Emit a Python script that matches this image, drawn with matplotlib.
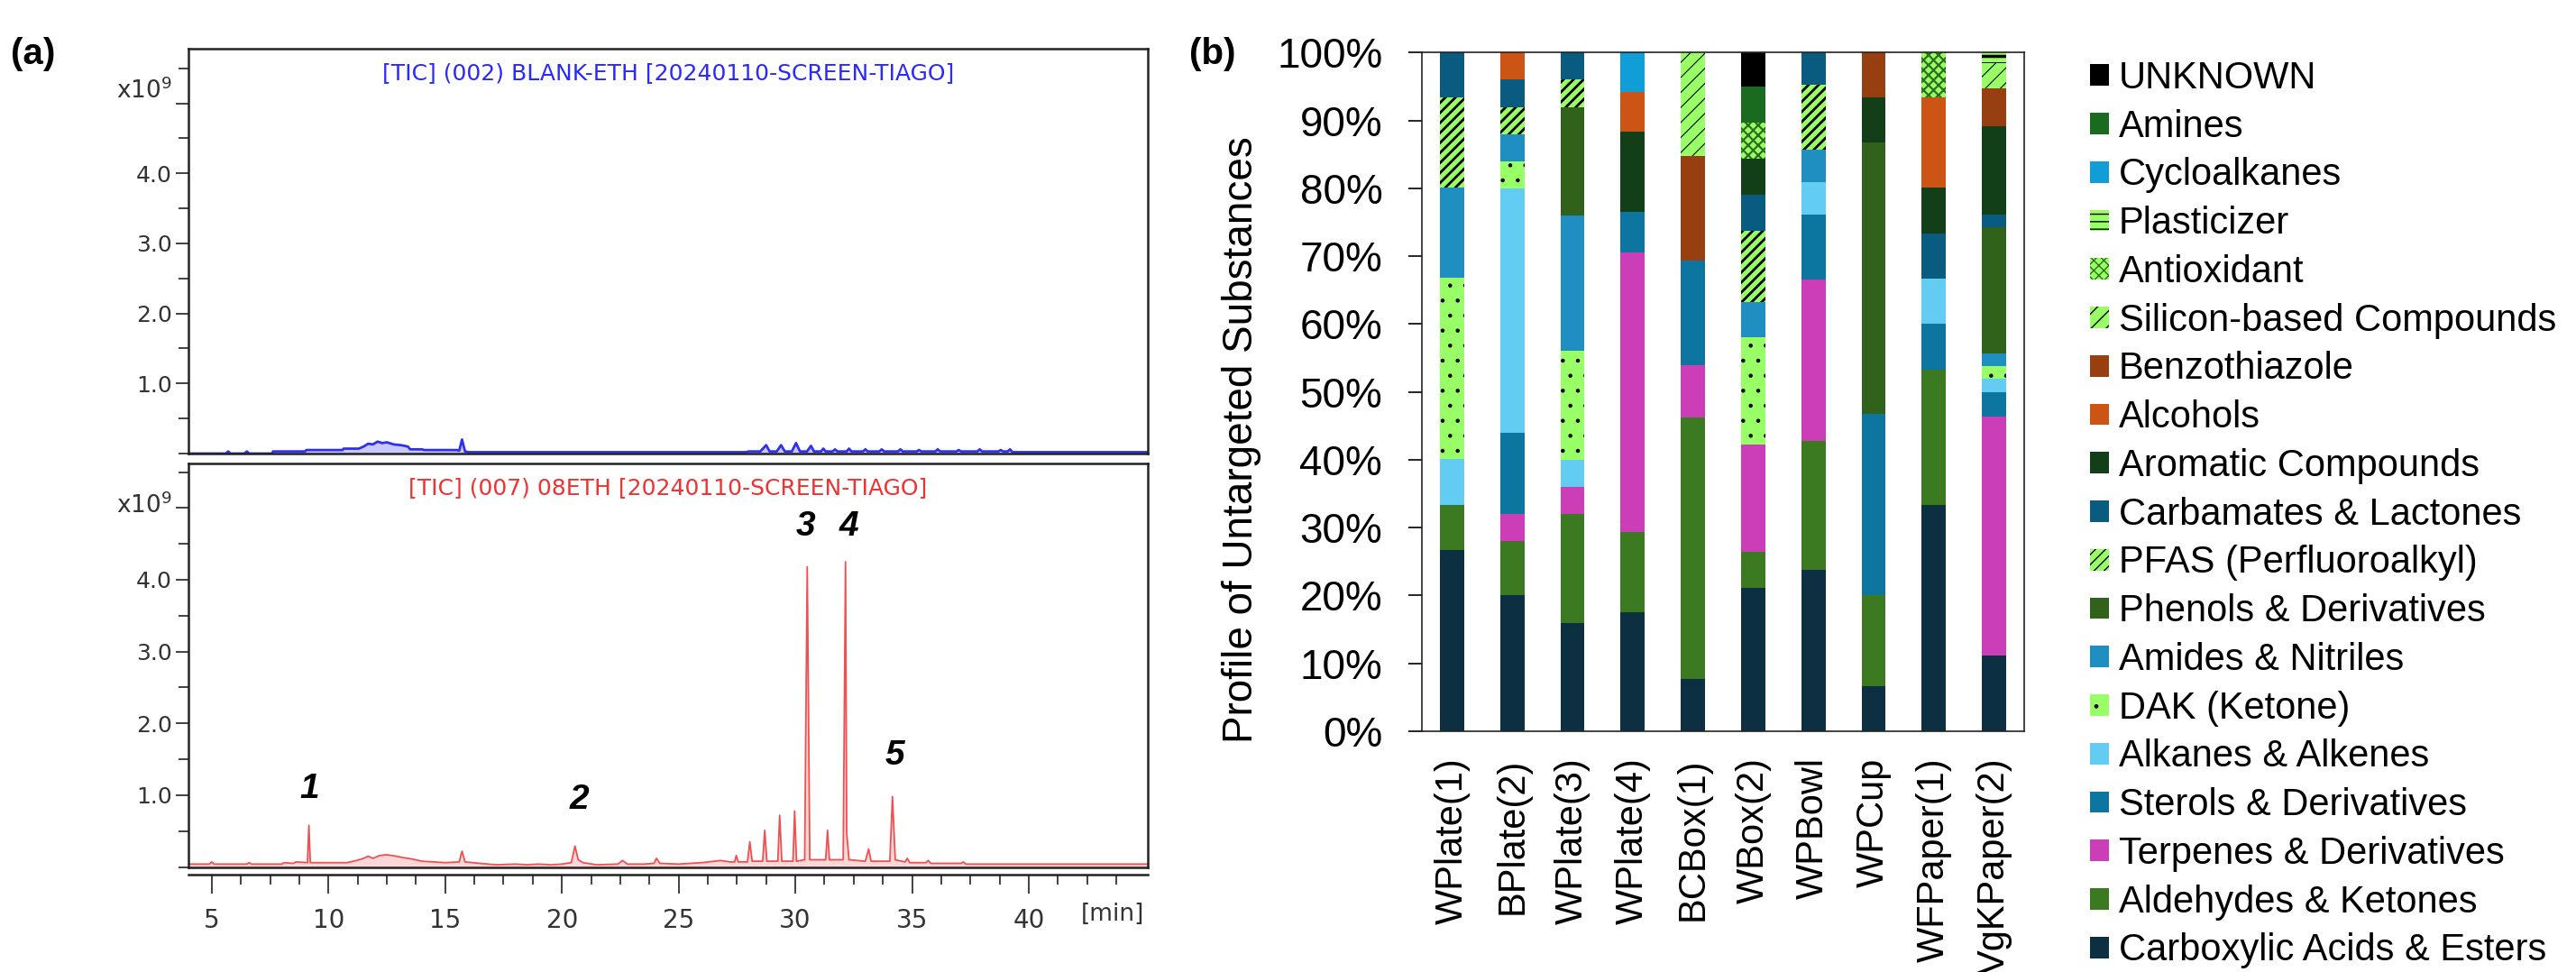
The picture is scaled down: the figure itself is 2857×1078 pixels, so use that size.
import numpy as np
import matplotlib.pyplot as plt

plt.rcParams['font.family'] = ['Liberation Sans', 'DejaVu Sans']
CHROM_FONT = 'DejaVu Sans'

W, H = 2857, 1078

# ---------------- (a) chromatograms (TIC, x10^9 counts vs minutes) ----------------
blank_time = [4.0, 5.6, 5.7, 5.8, 6.4, 6.5, 6.6, 7.6, 7.62, 9.0, 9.05, 10.6, 10.65, 11.3,
              11.5, 11.7, 11.9, 12.1, 12.3, 12.5, 12.8, 13.1, 13.4, 13.5, 14.0, 14.1,
              15.5, 15.6, 15.72, 15.85, 16.0, 27.9, 28.0, 28.5, 28.75, 28.9, 29.2, 29.39,
              29.55, 29.85, 30.03, 30.2, 30.5, 30.67, 30.8, 31.1, 31.2, 31.3, 31.6, 31.7,
              31.8, 32.2, 32.3, 32.4, 32.9, 33.0, 33.1, 33.6, 33.7, 33.8, 34.4, 34.5, 34.6,
              35.2, 35.3, 35.4, 36.0, 36.1, 36.2, 36.9, 37.0, 37.1, 37.8, 37.9, 38.0,
              38.7, 38.8, 38.9, 39.1, 39.2, 39.3, 45.1]
blank_tic = [0.00, 0.00, 0.03, 0.00, 0.00, 0.03, 0.00, 0.00, 0.03, 0.03, 0.05, 0.05, 0.07, 0.07,
             0.10, 0.14, 0.13, 0.17, 0.15, 0.16, 0.13, 0.12, 0.10, 0.06, 0.06, 0.05,
             0.05, 0.04, 0.20, 0.03, 0.02, 0.02, 0.03, 0.03, 0.12, 0.03, 0.03, 0.12,
             0.03, 0.03, 0.15, 0.03, 0.03, 0.11, 0.03, 0.03, 0.07, 0.03, 0.03, 0.06,
             0.03, 0.03, 0.07, 0.03, 0.03, 0.06, 0.03, 0.03, 0.06, 0.03, 0.03, 0.06, 0.03,
             0.03, 0.05, 0.03, 0.03, 0.06, 0.03, 0.03, 0.05, 0.03, 0.03, 0.06, 0.03,
             0.03, 0.05, 0.03, 0.03, 0.06, 0.02, 0.02]

sample_time = [4.0, 4.9, 5.0, 5.1, 6.5, 6.6, 6.7, 8.0, 8.1, 8.5, 8.6, 9.1, 9.16, 9.22,
               10.8, 11.2, 11.5, 11.7, 11.9, 12.2, 12.5, 12.9, 13.2, 13.6, 14.0,
               15.0, 15.6, 15.72, 15.85, 16.5, 17.2, 18.0, 18.5, 19.0, 19.5, 20.0,
               20.4, 20.56, 20.7, 20.9, 21.5, 22.4, 22.6, 22.8, 23.5, 23.95, 24.05, 24.2,
               25.0, 25.5, 26.0, 26.8, 27.2, 27.4, 27.47, 27.55, 27.95, 28.05, 28.15,
               28.6, 28.69, 28.78, 29.25, 29.33, 29.42, 29.9, 29.97, 30.05, 30.4, 30.51, 30.62,
               31.3, 31.38, 31.46, 32.05, 32.15, 32.2, 32.3, 33.0, 33.14, 33.25,
               34.05, 34.16, 34.28, 34.7, 34.8, 34.9, 35.6, 35.7, 35.8, 37.1, 37.2, 37.3, 45.1]
sample_tic = [0.04, 0.04, 0.07, 0.04, 0.04, 0.06, 0.04, 0.04, 0.06, 0.05, 0.07, 0.06, 0.58, 0.06,
              0.06, 0.09, 0.12, 0.15, 0.12, 0.16, 0.17, 0.15, 0.13, 0.11, 0.08,
              0.06, 0.07, 0.22, 0.07, 0.05, 0.03, 0.04, 0.03, 0.04, 0.03, 0.04,
              0.06, 0.29, 0.10, 0.06, 0.03, 0.04, 0.09, 0.04, 0.04, 0.05, 0.12, 0.05,
              0.04, 0.05, 0.06, 0.09, 0.07, 0.07, 0.16, 0.07, 0.07, 0.35, 0.08,
              0.08, 0.51, 0.08, 0.08, 0.72, 0.08, 0.08, 0.78, 0.08, 0.10, 4.18, 0.10,
              0.10, 0.51, 0.10, 0.10, 4.25, 0.48, 0.10, 0.08, 0.25, 0.08,
              0.08, 0.98, 0.10, 0.07, 0.12, 0.06, 0.06, 0.09, 0.05, 0.05, 0.07, 0.04, 0.04]

peak_ids = ['1', '2', '3', '4', '5']
peak_x = [9.2, 20.75, 30.45, 32.3, 34.25]
peak_y = [1.09, 0.93, 4.74, 4.74, 1.55]

# ---------------- (b) stacked profile (%) ----------------
samples = ['WPlate(1)', 'BPlate(2)', 'WPlate(3)', 'WPlate(4)', 'BCBox(1)',
           'WBox(2)', 'WPBowl', 'WPCup', 'WFPaper(1)', 'VgKPaper(2)']

carboxylic = [26.7, 20.0, 16.0, 17.6, 7.7, 21.1, 23.8, 6.7, 33.3, 11.1]
aldehydes = [6.7, 8.0, 16.0, 11.8, 38.5, 5.3, 19.0, 13.3, 20.0, 0]
terpenes = [0, 4.0, 4.0, 41.2, 7.7, 15.8, 23.8, 0, 0, 35.2]
sterols = [0, 12.0, 0, 5.9, 15.4, 0, 9.5, 26.7, 6.7, 3.7]
alkanes = [6.7, 36.0, 4.0, 0, 0, 0, 4.8, 0, 6.7, 1.9]
dak = [26.7, 4.0, 16.0, 0, 0, 15.8, 0, 0, 0, 1.9]
amides = [13.3, 4.0, 20.0, 0, 0, 5.3, 4.8, 0, 0, 1.9]
phenols = [0, 0, 16.0, 0, 0, 0, 0, 40.0, 0, 18.5]
pfas = [13.3, 4.0, 4.0, 0, 0, 10.5, 9.5, 0, 0, 0]
carbamates = [6.7, 4.0, 4.0, 0, 0, 5.3, 4.8, 0, 6.7, 1.9]
aromatic = [0, 0, 0, 11.8, 0, 5.3, 0, 6.7, 6.7, 13.0]
alcohols = [0, 4.0, 0, 5.9, 0, 0, 0, 0, 13.3, 0]
benzothiazole = [0, 0, 0, 0, 15.4, 0, 0, 6.7, 0, 5.6]
silicon = [0, 0, 0, 0, 15.4, 0, 0, 0, 0, 3.7]
antioxidant = [0, 0, 0, 0, 0, 5.3, 0, 0, 6.7, 0]
plasticizer = [0, 0, 0, 0, 0, 0, 0, 0, 0, 1.9]
cycloalkanes = [0, 0, 0, 5.9, 0, 0, 0, 0, 0, 0]
amines = [0, 0, 0, 0, 0, 5.3, 0, 0, 0, 0]
unknown = [0, 0, 0, 0, 0, 5.3, 0, 0, 0, 0]

# bottom -> top: (label, values, face, hatch, hatch colour, hatch width)
LIME = '#99ff66'
stack = [
    ('Carboxylic Acids & Esters', carboxylic, '#0c3042', None, None, 1),
    ('Aldehydes & Ketones', aldehydes, '#3c7a22', None, None, 1),
    ('Terpenes & Derivatives', terpenes, '#cc3db8', None, None, 1),
    ('Sterols & Derivatives', sterols, '#0c75a0', None, None, 1),
    ('Alkanes & Alkenes', alkanes, '#62ccf2', None, None, 1),
    ('DAK (Ketone)', dak, LIME, '.', 'black', 0.8),
    ('Amides & Nitriles', amides, '#1f8fc2', None, None, 1),
    ('Phenols & Derivatives', phenols, '#30621c', None, None, 1),
    ('PFAS (Perfluoroalkyl)', pfas, LIME, '///', 'black', 2.0),
    ('Carbamates & Lactones', carbamates, '#0a5b80', None, None, 1),
    ('Aromatic Compounds', aromatic, '#123f17', None, None, 1),
    ('Alcohols', alcohols, '#cc5414', None, None, 1),
    ('Benzothiazole', benzothiazole, '#983f12', None, None, 1),
    ('Silicon-based Compounds', silicon, LIME, '//', 'black', 0.8),
    ('Antioxidant', antioxidant, LIME, 'xxx', '#2d6e1c', 1.6),
    ('Plasticizer', plasticizer, LIME, '--', 'black', 2.5),
    ('Cycloalkanes', cycloalkanes, '#119ed6', None, None, 1),
    ('Amines', amines, '#1a6b20', None, None, 1),
    ('UNKNOWN', unknown, '#000000', None, None, 1),
]

fig = plt.figure(figsize=(W / 100, H / 100), dpi=100)


def px_axes(left, top, right, bottom):
    return fig.add_axes([left / W, 1 - bottom / H, (right - left) / W, (bottom - top) / H])


# ---- chromatogram panels ----
ax_top = px_axes(209, 54, 1273, 503)
ax_bot = px_axes(209, 514, 1273, 961.5)

chrom = [
    (ax_top, blank_time, blank_tic, '#3030f0', '#8888ff', 2.0,
     '[TIC] (002) BLANK-ETH [20240110-SCREEN-TIAGO]', '#2a2aff', 5.78),
    (ax_bot, sample_time, sample_tic, '#f05050', '#f8a8a8', 1.3,
     '[TIC] (007) 08ETH [20240110-SCREEN-TIAGO]', '#ee3333', 5.62),
]
for ax, t, v, lc, fc, lw, title, tc, ymax in chrom:
    ax.fill_between(t, 0, v, color=fc, alpha=0.45, lw=0)
    ax.plot(t, v, color=lc, lw=lw)
    ax.set_xlim(4.0, 45.1)
    ax.set_ylim(0, ymax)
    ax.set_yticks([1, 2, 3, 4, 5])
    ax.set_yticklabels(['1.0', '2.0', '3.0', '4.0', ''])
    ax.set_yticks(np.arange(0, 6, 0.5), minor=True)
    ax.tick_params(axis='y', which='both', direction='out', length=10, width=1.3,
                   color='#333333', labelsize=18, labelcolor='#333333', pad=3,
                   labelfontfamily=CHROM_FONT)
    ax.tick_params(axis='y', which='minor', length=8)
    for s in ax.spines.values():
        s.set_linewidth(1.8)
        s.set_color('#222222')
    ax.text(0.5, 0.94, title, transform=ax.transAxes, ha='center', va='center',
            color=tc, fontsize=18, family=CHROM_FONT)
    ax.text(-0.017, 0.895, r'x10$^{9}$', transform=ax.transAxes, ha='right', va='center',
            color='#333333', fontsize=19, family=CHROM_FONT)

ax_top.tick_params(axis='x', which='both', bottom=False, labelbottom=False)

ax_bot.set_xticks(np.arange(5, 45, 5))
ax_bot.set_xticks(np.arange(5, 45, 1.25), minor=True)
ax_bot.spines['bottom'].set_position(('outward', 6))
ax_bot.plot([0, 1], [0, 0], transform=ax_bot.transAxes, color='#222222', lw=1.8, clip_on=False)
ax_bot.tick_params(axis='x', which='major', direction='out', length=15, width=1.3,
                   color='#333333', labelsize=20, labelcolor='#333333', pad=12,
                   labelfontfamily=CHROM_FONT)
ax_bot.tick_params(axis='x', which='minor', direction='out', length=8, width=1.3, color='#333333')
ax_bot.text(43.6, -0.117, '[min]', transform=ax_bot.get_xaxis_transform(), ha='center',
            va='center', color='#333333', fontsize=19, family=CHROM_FONT)

for lab, x, y in zip(peak_ids, peak_x, peak_y):
    ax_bot.text(x, y, lab, ha='center', va='center', fontsize=28, fontweight='bold',
                fontstyle='italic', color='black')

# ---- stacked bar panel ----
axb = px_axes(1577, 58.3, 2245, 811)
x = np.arange(len(samples))
bottom = np.zeros(len(samples))
handles = []
for label, vals, face, hatch, hcol, hlw in stack:
    vals = np.array(vals, dtype=float)
    with plt.rc_context({'hatch.linewidth': hlw}):
        bc = axb.bar(x, vals, 0.4, bottom=bottom, color=face,
                     edgecolor=hcol if hatch else face, linewidth=0,
                     hatch=hatch, label=label)
    if hasattr(bc.patches[0], 'set_hatch_linewidth'):
        for p in bc.patches:
            p.set_hatch_linewidth(hlw)
    handles.append(bc)
    bottom += vals

axb.set_xlim(-0.5, 9.5)
axb.set_ylim(0, 100)
axb.set_yticks(np.arange(0, 101, 10))
axb.set_yticklabels([f'{v}%' for v in range(0, 101, 10)])
axb.set_xticks(x)
axb.set_xticklabels(samples, rotation=90)
axb.tick_params(axis='y', length=10.5, width=1.2, pad=21, labelsize=33)
axb.tick_params(axis='x', length=0, pad=21, labelsize=30)
for s in axb.spines.values():
    s.set_linewidth(1.2)
    s.set_color('#222222')
axb.set_ylabel('Profile of Untargeted Substances', fontsize=33)
axb.yaxis.set_label_coords(-0.266, 0.43)

fig.legend(handles[::-1], [h.get_label() for h in handles[::-1]],
           loc='upper left', bbox_to_anchor=(2318 / W, 1 - 67 / H), frameon=False,
           fontsize=30, handlelength=0.5, handleheight=0.5, handletextpad=0.27,
           labelspacing=0.33, borderaxespad=0, borderpad=0)

fig.text(12 / W, 1 - 60 / H, '(a)', fontsize=29, fontweight='bold', ha='left', va='center')
fig.text(1319 / W, 1 - 60 / H, '(b)', fontsize=29, fontweight='bold', ha='left', va='center')

fig.savefig('out.png', dpi=100)
